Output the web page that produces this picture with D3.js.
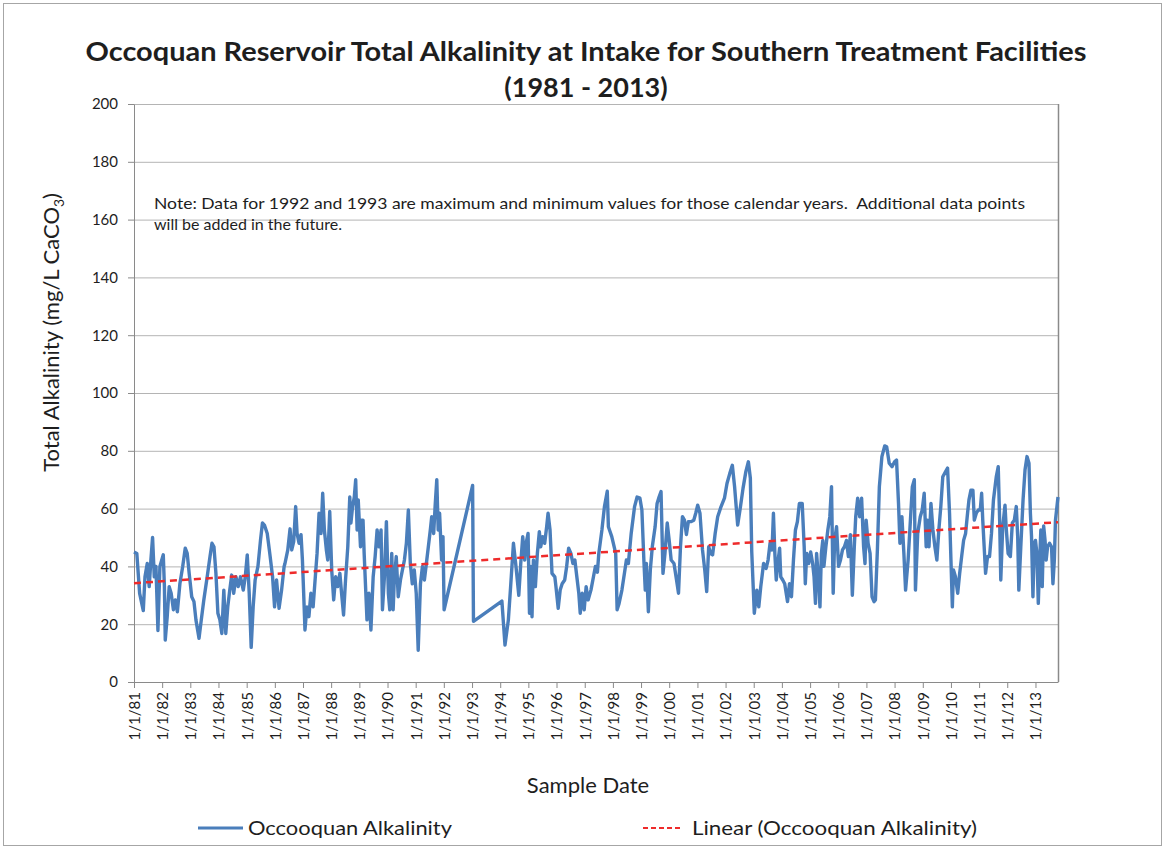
<!DOCTYPE html>
<html>
<head>
<meta charset="utf-8">
<script src="https://cdn.jsdelivr.net/npm/d3@7/dist/d3.min.js"></script>
<style>
  body { margin: 0; background: #fff; }
  svg text { font-family: Lato, 'Open Sans', sans-serif; fill: #1e1e1e; }
</style>
</head>
<body>
<div class="chart"></div>
<script>
// chart text
const titleLines = ['Occoquan Reservoir Total Alkalinity at Intake for Southern Treatment Facilities', '(1981 - 2013)'];
const noteLines = ['Note: Data for 1992 and 1993 are maximum and minimum values for those calendar years.  Additional data points', 'will be added in the future.'];
const xTitle = 'Sample Date';
const seriesName = 'Occooquan Alkalinity';
const trendName = 'Linear (Occooquan Alkalinity)';

// axis ticks
const yTicks = [0, 20, 40, 60, 80, 100, 120, 140, 160, 180, 200];
const tickYears = [1981, 1982, 1983, 1984, 1985, 1986, 1987, 1988, 1989, 1990, 1991, 1992, 1993, 1994, 1995, 1996, 1997,
	1998, 1999, 2000, 2001, 2002, 2003, 2004, 2005, 2006, 2007, 2008, 2009, 2010, 2011, 2012, 2013];

// samples: [year + fraction of year, mg/L CaCO3]
const samples = [
	[1981.00, 45], [1981.10, 44.5], [1981.20, 30.7], [1981.33, 24.7], [1981.39, 36.4], [1981.47, 41], [1981.54, 33], [1981.60, 42.2], [1981.66, 50], [1981.72, 36.4], [1981.78, 40], [1981.85, 17.8], [1981.92, 40],
	[1982.04, 44], [1982.08, 33], [1982.11, 14.5], [1982.18, 22.6], [1982.25, 33], [1982.32, 30.7], [1982.40, 25], [1982.47, 28.4], [1982.54, 24.3], [1982.63, 34], [1982.73, 40], [1982.82, 46.3], [1982.89, 44.5], [1982.96, 37.6],
	[1983.05, 29.5], [1983.13, 27.8], [1983.20, 21.5], [1983.31, 15.1], [1983.39, 21.5], [1983.48, 28.4], [1983.60, 36.4], [1983.70, 43.4], [1983.77, 48], [1983.84, 46.8], [1983.91, 37.6], [1983.98, 23.8],
	[1984.05, 21.5], [1984.12, 16.8], [1984.19, 31.8], [1984.26, 16.8], [1984.33, 26], [1984.40, 31.8], [1984.47, 37], [1984.54, 30.7], [1984.62, 36.4], [1984.70, 33], [1984.78, 36.4], [1984.88, 31.8], [1984.95, 36.4],
	[1985.02, 44], [1985.09, 30.7], [1985.16, 12], [1985.23, 26], [1985.30, 35.3], [1985.40, 40], [1985.49, 49], [1985.56, 55], [1985.63, 54.3], [1985.73, 51.4], [1985.82, 44.5], [1985.92, 36.4], [1985.99, 26],
	[1986.06, 35.3], [1986.15, 25.5], [1986.24, 31.8], [1986.33, 40], [1986.36, 41], [1986.46, 45.7], [1986.54, 53], [1986.60, 45.7], [1986.67, 48.6], [1986.74, 60.7], [1986.79, 51.4], [1986.86, 48], [1986.93, 51], [1986.98, 42.2],
	[1987.02, 31.8], [1987.07, 18], [1987.14, 26], [1987.21, 22.6], [1987.28, 30.7], [1987.36, 26], [1987.43, 35.3], [1987.50, 44.5], [1987.57, 58.4], [1987.64, 51.4], [1987.70, 65.3], [1987.76, 52.6], [1987.83, 45.7], [1987.88, 42.2], [1987.95, 59],
	[1988.02, 38.8], [1988.09, 28.4], [1988.16, 36.4], [1988.23, 33], [1988.31, 37.6], [1988.37, 30.7], [1988.44, 23.2], [1988.51, 35.3], [1988.59, 46.8], [1988.66, 64], [1988.70, 55], [1988.76, 60.7], [1988.82, 64], [1988.87, 70], [1988.92, 52.6], [1988.96, 63],
	[1989.04, 46.8], [1989.08, 56], [1989.13, 56], [1989.17, 44.5], [1989.22, 33], [1989.27, 21.5], [1989.34, 30.7], [1989.41, 18], [1989.49, 36.4], [1989.56, 43.4], [1989.63, 52.6], [1989.70, 46.8], [1989.77, 52.6], [1989.82, 25], [1989.89, 36.4], [1989.96, 55.5],
	[1990.03, 30.7], [1990.08, 25], [1990.15, 44.5], [1990.20, 25], [1990.24, 35.3], [1990.31, 43.4], [1990.38, 29.5], [1990.46, 35.3], [1990.53, 38.8], [1990.60, 42.2], [1990.67, 48], [1990.74, 59.5], [1990.81, 41], [1990.88, 34], [1990.95, 38.8],
	[1991.02, 30.7], [1991.09, 11], [1991.17, 34], [1991.24, 40], [1991.31, 35.3], [1991.38, 41], [1991.45, 46.8], [1991.52, 52.6], [1991.57, 57.2], [1991.64, 51.4], [1991.69, 60.7], [1991.75, 70], [1991.80, 52.6], [1991.85, 58.4], [1991.92, 42.2], [1991.97, 50.3],
	[1992.01, 25], [1993.02, 68], [1993.05, 21], [1994.06, 28],
	[1994.17, 12.8], [1994.29, 21.5], [1994.37, 33], [1994.47, 48], [1994.56, 40], [1994.66, 30], [1994.73, 41], [1994.80, 50.3], [1994.87, 42.2], [1994.92, 48], [1994.99, 51.4],
	[1995.04, 23.8], [1995.09, 40], [1995.13, 22.6], [1995.18, 42.2], [1995.25, 33], [1995.32, 44.5], [1995.39, 52], [1995.44, 46.8], [1995.51, 50.3], [1995.58, 48], [1995.65, 53.7], [1995.70, 58.4], [1995.77, 52.6], [1995.84, 37.6], [1995.94, 36.4], [1995.98, 33],
	[1996.06, 25.5], [1996.13, 31.8], [1996.20, 34], [1996.29, 35.3], [1996.36, 40], [1996.43, 46.3], [1996.51, 44.5], [1996.58, 41], [1996.65, 42.2], [1996.72, 36.4], [1996.79, 30.7], [1996.84, 23.8], [1996.91, 30.7], [1996.98, 25],
	[1997.05, 33], [1997.12, 28.4], [1997.22, 31.8], [1997.31, 36.4], [1997.38, 40], [1997.45, 38], [1997.50, 44.5], [1997.61, 52.6], [1997.70, 60.7], [1997.80, 66], [1997.84, 53.7], [1997.96, 50.3],
	[1998.10, 44.5], [1998.15, 25], [1998.22, 27.2], [1998.32, 31.8], [1998.41, 37.6], [1998.48, 42.2], [1998.55, 41], [1998.65, 51.4], [1998.77, 60.7], [1998.86, 64], [1998.96, 63.6],
	[1999.03, 59.5], [1999.10, 42.2], [1999.15, 31.8], [1999.19, 41], [1999.26, 24.3], [1999.33, 38.8], [1999.40, 46.8], [1999.50, 53.7], [1999.57, 61.8], [1999.64, 64], [1999.71, 65.9], [1999.78, 37.6], [1999.85, 44.5], [1999.93, 55],
	[2000.00, 49], [2000.07, 42.2], [2000.17, 41], [2000.26, 35.3], [2000.33, 30.7], [2000.40, 46.8], [2000.47, 57.2], [2000.54, 56], [2000.61, 51], [2000.68, 55.5], [2000.78, 55.5], [2000.87, 56], [2000.94, 58.4],
	[2001.01, 61.2], [2001.09, 58.4], [2001.18, 45.7], [2001.26, 38.8], [2001.33, 31.3], [2001.40, 46.8], [2001.47, 44.5], [2001.54, 44], [2001.63, 51.4], [2001.72, 57.2], [2001.84, 60.7], [2001.96, 63.6],
	[2002.05, 68.7], [2002.15, 72.2], [2002.24, 75], [2002.32, 67.6], [2002.43, 54.3], [2002.53, 60.7], [2002.62, 67], [2002.72, 72.8], [2002.81, 76.2], [2002.88, 70.5], [2002.93, 45],
	[2003.02, 23.8], [2003.11, 31.8], [2003.18, 26], [2003.25, 33], [2003.35, 41], [2003.44, 39.3], [2003.51, 42.2], [2003.58, 48], [2003.65, 45.7], [2003.70, 58.4], [2003.75, 44.5], [2003.80, 35.3], [2003.87, 42.2], [2003.92, 46.3], [2003.96, 36.4],
	[2004.03, 35.3], [2004.10, 34], [2004.20, 27.8], [2004.27, 34], [2004.34, 29.5], [2004.41, 42.2], [2004.48, 52.6], [2004.55, 55.5], [2004.62, 61.8], [2004.72, 61.8], [2004.79, 46.8], [2004.83, 34], [2004.88, 44.5], [2004.95, 41],
	[2005.02, 45], [2005.09, 41], [2005.14, 36.4], [2005.19, 27.2], [2005.23, 44.5], [2005.30, 35.3], [2005.35, 26], [2005.40, 44.5], [2005.45, 49], [2005.49, 40], [2005.56, 46.8], [2005.63, 52.6], [2005.70, 57.2], [2005.76, 67.6], [2005.82, 30.7], [2005.87, 49], [2005.94, 53.7],
	[2006.01, 40], [2006.08, 42.2], [2006.15, 45.7], [2006.22, 46.8], [2006.29, 49], [2006.36, 43.4], [2006.43, 51], [2006.50, 30], [2006.57, 46.8], [2006.62, 57.2], [2006.69, 63.6], [2006.76, 57.2], [2006.83, 63.6], [2006.90, 46.8], [2006.95, 41], [2006.99, 56],
	[2007.06, 48], [2007.13, 44.5], [2007.20, 29.5], [2007.27, 27.8], [2007.32, 28.4], [2007.39, 45.7], [2007.46, 67.6], [2007.55, 78], [2007.65, 81.7], [2007.72, 81.4], [2007.81, 75.7], [2007.91, 74.5],
	[2008.00, 76.2], [2008.07, 76.8], [2008.14, 61.8], [2008.19, 48], [2008.26, 57.2], [2008.33, 44.5], [2008.39, 31.8], [2008.48, 42.2], [2008.63, 67.6], [2008.70, 70], [2008.74, 31.8], [2008.82, 51.4], [2008.91, 57.2], [2008.98, 59.5],
	[2009.05, 65.3], [2009.12, 46.8], [2009.17, 56], [2009.22, 46.8], [2009.29, 61.8], [2009.36, 52.6], [2009.43, 46.8], [2009.50, 42.2], [2009.57, 52.6], [2009.64, 60.7], [2009.71, 71], [2009.81, 72.8], [2009.88, 74], [2009.95, 58.4],
	[2010.00, 42.2], [2010.05, 26], [2010.09, 38.8], [2010.16, 36.4], [2010.24, 30.7], [2010.31, 37.6], [2010.38, 43.4], [2010.45, 49], [2010.52, 51.4], [2010.59, 58.4], [2010.64, 63], [2010.71, 66.4], [2010.78, 66.4], [2010.83, 56], [2010.90, 58.4], [2010.97, 59.5],
	[2011.04, 59.5], [2011.09, 65.3], [2011.13, 56], [2011.18, 46.8], [2011.23, 37.6], [2011.30, 43.4], [2011.37, 43.4], [2011.44, 51.4], [2011.51, 63], [2011.61, 71], [2011.68, 74.5], [2011.73, 56], [2011.77, 35.3], [2011.84, 53.7], [2011.92, 61.2], [2011.96, 53.7],
	[2012.03, 44.5], [2012.11, 43.4], [2012.18, 55], [2012.25, 56], [2012.32, 60.7], [2012.37, 50.3], [2012.41, 31.8], [2012.48, 46.8], [2012.56, 63], [2012.63, 73.4], [2012.70, 78], [2012.77, 75.7], [2012.82, 58.4], [2012.86, 50.3], [2012.91, 29.5], [2012.96, 48],
	[2013.00, 49], [2013.05, 44.5], [2013.10, 27.2], [2013.15, 42.2], [2013.19, 52.6], [2013.24, 33], [2013.29, 54], [2013.34, 49], [2013.38, 42.2], [2013.43, 46.8], [2013.50, 48], [2013.57, 46.8], [2013.62, 34], [2013.67, 42.2], [2013.71, 56], [2013.80, 64]
];

// linear trendline at the first and last sample date
const trendEnds = [34.2, 55.3];

const blue = '#4a7ebb';
const red = '#ee2b2b';

// page layout
const W = 1166, H = 850;
const plot = { left: 134, top: 104, right: 1058, bottom: 682 };

//turn "1985.42" into a real date inside that year
function toDate(t) {
	const yr = Math.floor(t);
	const a = new Date(yr, 0, 1), b = new Date(yr + 1, 0, 1);
	return new Date(+a + (t - yr) * (b - a));
}

const points = samples.map((d) => ({ date: toDate(d[0]), value: d[1] }));

const x = d3.scaleTime()
	.domain(d3.extent(points, (d) => d.date))
	.range([plot.left, plot.right]);

const y = d3.scaleLinear()
	.domain([0, 200])
	.range([plot.bottom, plot.top]);

const svg = d3.select('.chart')
	.append('svg')
	.attr('width', W)
	.attr('height', H);

svg.append('rect')
	.attr('x', 3.5).attr('y', 3.5)
	.attr('width', W - 8).attr('height', H - 8)
	.attr('fill', '#fff')
	.attr('stroke', '#a6a6a6');

//gridlines
svg.append('g')
	.attr('transform', `translate(${plot.left},0)`)
	.call(d3.axisLeft(y).tickValues(yTicks).tickSize(-(plot.right - plot.left)).tickFormat(''))
	.call((g) => g.select('.domain').remove())
	.selectAll('line').attr('stroke', '#b4b4b4');

//right border of plot area
svg.append('line')
	.attr('x1', plot.right + 0.5).attr('x2', plot.right + 0.5)
	.attr('y1', plot.top).attr('y2', plot.bottom)
	.attr('stroke', '#8a8a8a').attr('stroke-width', 1.5);

//y axis
const yAxis = svg.append('g')
	.attr('transform', `translate(${plot.left},0)`)
	.call(d3.axisLeft(y).tickValues(yTicks).tickSize(6).tickPadding(10).tickSizeOuter(0));
yAxis.selectAll('line, path').attr('stroke', '#8a8a8a');
yAxis.selectAll('text').style('font-size', '15px').attr('fill', '#1e1e1e');

//x axis
const xAxis = svg.append('g')
	.attr('transform', `translate(0,${plot.bottom})`)
	.call(d3.axisBottom(x)
		.tickValues(tickYears.map((yr) => new Date(yr, 0, 1)))
		.tickFormat(d3.timeFormat('%-m/%-d/%y'))
		.tickSize(6)
		.tickSizeOuter(0));
xAxis.selectAll('line, path').attr('stroke', '#8a8a8a');
xAxis.selectAll('text')
	.style('font-size', '15px')
	.attr('fill', '#1e1e1e')
	.attr('text-anchor', 'end')
	.attr('transform', 'rotate(-90)')
	.attr('x', -10)
	.attr('y', 0)
	.attr('dy', '0.36em');

//the series
const line = d3.line()
	.x((d) => x(d.date))
	.y((d) => y(d.value));

svg.append('path')
	.datum(points)
	.attr('d', line)
	.attr('fill', 'none')
	.attr('stroke', blue)
	.attr('stroke-width', 3.4)
	.attr('stroke-linejoin', 'round');

//trend line on top of the series
svg.append('line')
	.attr('x1', x(points[0].date))
	.attr('y1', y(trendEnds[0]))
	.attr('x2', x(points[points.length - 1].date))
	.attr('y2', y(trendEnds[1]))
	.attr('stroke', red)
	.attr('stroke-width', 2.5)
	.attr('stroke-dasharray', '7,5');

//title
svg.append('text')
	.attr('x', 586).attr('y', 61)
	.attr('text-anchor', 'middle')
	.style('font-size', '27px').style('font-weight', 'bold')
	.attr('textLength', 1001).attr('lengthAdjust', 'spacingAndGlyphs')
	.text(titleLines[0]);

svg.append('text')
	.attr('x', 586).attr('y', 97)
	.attr('text-anchor', 'middle')
	.style('font-size', '27px').style('font-weight', 'bold')
	.text(titleLines[1]);

//note inside the plot (keeps the double space)
svg.append('text')
	.attr('x', 154).attr('y', 209)
	.style('font-size', '16px')
	.style('white-space', 'pre')
	.attr('textLength', 871).attr('lengthAdjust', 'spacingAndGlyphs')
	.text(noteLines[0]);

svg.append('text')
	.attr('x', 154).attr('y', 230)
	.style('font-size', '16px')
	.text(noteLines[1]);

// text label for the y axis
const yTitle = svg.append('text')
	.attr('transform', 'translate(59,193) rotate(-90)')
	.attr('text-anchor', 'end')
	.style('font-size', '22px');
yTitle.append('tspan').text('Total Alkalinity (mg/L CaCO');
yTitle.append('tspan').attr('dy', 5).style('font-size', '14px').text('3');
yTitle.append('tspan').attr('dy', -5).text(')');

// text label for the x axis
svg.append('text')
	.attr('x', 588).attr('y', 793)
	.attr('text-anchor', 'middle')
	.style('font-size', '22px')
	.text(xTitle);

//legend
const legend = svg.append('g');
legend.append('line')
	.attr('x1', 198).attr('x2', 243).attr('y1', 828).attr('y2', 828)
	.attr('stroke', blue).attr('stroke-width', 3);
legend.append('text')
	.attr('x', 248).attr('y', 835)
	.style('font-size', '19px')
	.attr('textLength', 204).attr('lengthAdjust', 'spacingAndGlyphs')
	.text(seriesName);
legend.append('line')
	.attr('x1', 643).attr('x2', 683).attr('y1', 828).attr('y2', 828)
	.attr('stroke', red).attr('stroke-width', 2).attr('stroke-dasharray', '5,3');
legend.append('text')
	.attr('x', 692).attr('y', 835)
	.style('font-size', '19px')
	.attr('textLength', 285).attr('lengthAdjust', 'spacingAndGlyphs')
	.text(trendName);
</script>
</body>
</html>
